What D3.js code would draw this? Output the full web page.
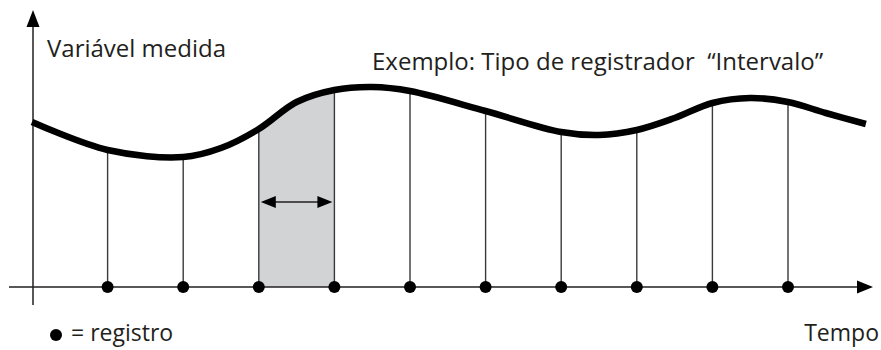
<!DOCTYPE html>
<html>
<head>
<meta charset="utf-8">
<script src="https://cdn.jsdelivr.net/npm/d3@7"></script>
<style>
  body { margin: 0; background: #fff; }
  text { font-family: "Open Sans", sans-serif; fill: #231f20; white-space: pre; }
</style>
</head>
<body>
<div id="chart"></div>
<script>
var curveT = [0, 1, 2, 2.5, 3, 3.5, 4, 4.5, 5, 6, 7, 7.5, 8, 8.5, 9, 9.5, 10, 10.5, 11.03]
var curveV = [82.5, 68.5, 65, 69.5, 79, 92.5, 98.5, 100, 98, 88, 77.5, 76, 78.5, 84.5, 92, 94.5, 92.5, 87, 81.5]
// record instants (the dots)
var recordT = [1, 2, 3, 4, 5, 6, 7, 8, 9, 10]
// highlighted interval
var intervalT = [3, 4]

var labelY = 'Variável medida'
var labelX = 'Tempo'
var title = 'Exemplo: Tipo de registrador  \u201cIntervalo\u201d'
var legendText = '= registro'

var width = 881, height = 350
var svg = d3.select('#chart').append('svg')
  .attr('width', width)
  .attr('height', height)

var x = d3.scaleLinear().domain([0, 10]).range([32, 788])
var y = d3.scaleLinear().domain([0, 100]).range([287, 87])

var pts = curveT.map(function(t, i) { return [t, curveV[i]] })
var valueAt = function(t) { return curveV[curveT.indexOf(t)] }

var line = d3.line()
  .x(function(d) { return x(d[0]) })
  .y(function(d) { return y(d[1]) })
  .curve(d3.curveCatmullRom)

var area = d3.area()
  .x(function(d) { return x(d[0]) })
  .y0(y(0))
  .y1(function(d) { return y(d[1]) })
  .curve(d3.curveCatmullRom)

// grey interval under the curve
svg.append('clipPath').attr('id', 'clipInt')
  .append('rect')
  .attr('x', x(intervalT[0]))
  .attr('y', 0)
  .attr('width', x(intervalT[1]) - x(intervalT[0]))
  .attr('height', y(0))
svg.append('path')
  .datum(pts)
  .attr('d', area)
  .attr('fill', '#d1d3d4')
  .attr('clip-path', 'url(#clipInt)')

// axes
svg.append('line')
  .attr('x1', 9).attr('x2', 862)
  .attr('y1', y(0)).attr('y2', y(0))
  .attr('stroke', '#231f20').attr('stroke-width', 1.5)
svg.append('path')
  .attr('d', 'M873,' + y(0) + 'L857,' + (y(0) - 6.5) + 'L857,' + (y(0) + 6.5) + 'Z')
  .attr('fill', '#000')
svg.append('line')
  .attr('x1', 33).attr('x2', 33)
  .attr('y1', 305).attr('y2', 22)
  .attr('stroke', '#231f20').attr('stroke-width', 1.5)
svg.append('path')
  .attr('d', 'M33,10L26.5,27L39.5,27Z')
  .attr('fill', '#000')

// verticals from each record up to the curve
svg.selectAll('line.rec')
  .data(recordT)
  .enter()
  .append('line')
    .attr('class', 'rec')
    .attr('x1', function(d) { return x(d) })
    .attr('x2', function(d) { return x(d) })
    .attr('y1', y(0))
    .attr('y2', function(d) { return y(valueAt(d)) })
    .attr('stroke', '#3a3a3a')
    .attr('stroke-width', 1.4)

// double arrow inside the interval
var ay = 202, ax0 = x(intervalT[0]) + 2, ax1 = x(intervalT[1]) - 2
svg.append('line')
  .attr('x1', ax0 + 10).attr('x2', ax1 - 10)
  .attr('y1', ay).attr('y2', ay)
  .attr('stroke', '#231f20').attr('stroke-width', 1.5)
svg.append('path')
  .attr('d', 'M' + ax0 + ',' + ay + 'L' + (ax0 + 15) + ',' + (ay - 6) + 'L' + (ax0 + 15) + ',' + (ay + 6) + 'Z' +
             'M' + ax1 + ',' + ay + 'L' + (ax1 - 15) + ',' + (ay - 6) + 'L' + (ax1 - 15) + ',' + (ay + 6) + 'Z')
  .attr('fill', '#000')

// the measured curve
svg.append('path')
  .datum(pts)
  .attr('d', line)
  .attr('fill', 'none')
  .attr('stroke', '#000')
  .attr('stroke-width', 6.5)

// record dots
svg.selectAll('circle.rec')
  .data(recordT)
  .enter()
  .append('circle')
    .attr('class', 'rec')
    .attr('cx', function(d) { return x(d) })
    .attr('cy', y(0))
    .attr('r', 6)
    .attr('fill', '#000')

// texts
svg.append('text').attr('x', 47).attr('y', 57)
  .attr('font-size', 24).text(labelY)
svg.append('text').attr('x', 372).attr('y', 70)
  .attr('font-size', 24).text(title)
svg.append('text').attr('x', 879).attr('y', 341)
  .attr('text-anchor', 'end')
  .attr('font-size', 23).text(labelX)
svg.append('circle').attr('cx', 56).attr('cy', 335).attr('r', 6).attr('fill', '#000')
svg.append('text').attr('x', 71).attr('y', 341)
  .attr('font-size', 23).text(legendText)
</script>
</body>
</html>
